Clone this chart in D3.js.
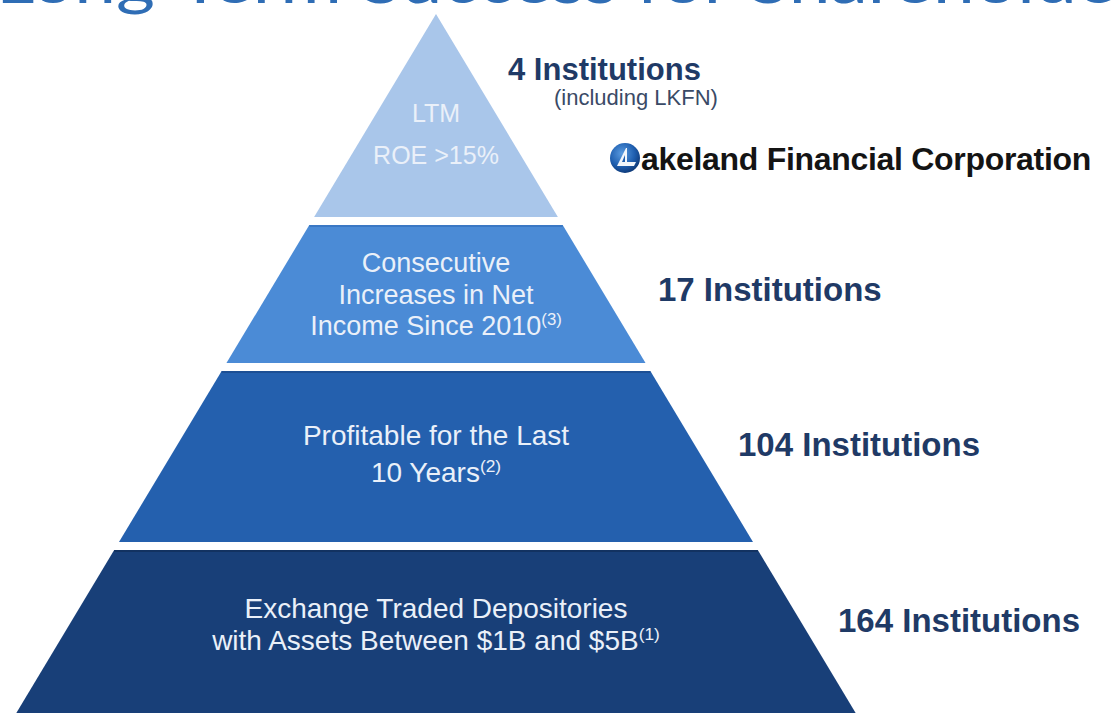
<!DOCTYPE html>
<html>
<head>
<meta charset="utf-8">
<script src="https://cdn.jsdelivr.net/npm/d3@7"></script>
<style>
  html, body { margin: 0; padding: 0; background: #fff; }
  svg { display: block; font-family: "Liberation Sans", Arial, sans-serif; }
</style>
</head>
<body>
<svg width="1114" height="713"></svg>
<script>
// data
var tierLines = [
  ["LTM", "ROE >15%"],
  ["Consecutive", "Increases in Net", "Income Since 2010"],
  ["Profitable for the Last", "10 Years"],
  ["Exchange Traded Depositories", "with Assets Between $1B and $5B"]
];
var tierNotes = ["", "(3)", "(2)", "(1)"];
var institutionCounts = [4, 17, 104, 164];
var countSubtitles = ["(including LKFN)", "", "", ""];

var svg = d3.select("svg");

// title, mostly cut off by the top edge
svg.append("text")
  .attr("x", -4)
  .attr("y", 3)
  .attr("font-family", "Lato, 'Open Sans', sans-serif")
  .attr("font-size", 62)
  .attr("fill", "#2f6db5")
  .attr("textLength", 1180)
  .attr("lengthAdjust", "spacingAndGlyphs")
  .text("Long-Term Success for Shareholders");

// pyramid layout
var cx = 436;
var apexY = 14;
var tierTop = [14, 225, 371, 550];
var tierBottom = [217, 363, 542, 760];
var half = d3.scaleLinear().domain([apexY, 542]).range([0, 317]);

var color = d3.scaleOrdinal()
  .domain(d3.range(tierLines.length))
  .range(["#a9c6ea", "#4b8bd6", "#2460ae", "#183f78"]);
var edge = d3.scaleOrdinal()
  .domain(d3.range(tierLines.length))
  .range(["#a9c6ea", "#3a78c4", "#1c4f94", "#123261"]);

var line = d3.line();

var tiers = svg.selectAll(".tier")
  .data(tierLines)
  .enter().append("g")
    .attr("class", "tier");

tiers.append("path")
  .attr("d", function(d, i) {
    var t = tierTop[i], b = tierBottom[i];
    return line([
      [cx - half(t), t], [cx + half(t), t],
      [cx + half(b), b], [cx - half(b), b]
    ]) + "Z";
  })
  .attr("fill", function(d, i) { return color(i); });

// thin darker line along the top of each lower tier
tiers.filter(function(d, i) { return i > 0; })
  .append("line")
  .attr("x1", function(d, i) { return cx - half(tierTop[i + 1]); })
  .attr("x2", function(d, i) { return cx + half(tierTop[i + 1]); })
  .attr("y1", function(d, i) { return tierTop[i + 1] + 1; })
  .attr("y2", function(d, i) { return tierTop[i + 1] + 1; })
  .attr("stroke", function(d, i) { return edge(i + 1); })
  .attr("stroke-width", 2);

// tier texts
var textSize = [25, 27, 28, 28];
var firstBase = [122, 272, 445, 618];
var lineGap = [42, 31.5, 37, 32];

tiers.each(function(lines, i) {
  var g = d3.select(this);
  lines.forEach(function(s, j) {
    var t = g.append("text")
      .attr("x", cx)
      .attr("y", firstBase[i] + j * lineGap[i])
      .attr("text-anchor", "middle")
      .attr("font-size", textSize[i])
      .attr("fill", "#eaf0f9");
    t.append("tspan").text(s);
    if (j === lines.length - 1 && tierNotes[i]) {
      t.append("tspan")
        .attr("dy", -10)
        .attr("font-size", textSize[i] * 0.62)
        .text(tierNotes[i]);
    }
  });
});

// institution counts on the right
var countX = [508, 658, 738, 838];
var countY = [80, 301, 456, 632];
var countSize = [31, 33, 33, 33];

svg.selectAll(".count")
  .data(institutionCounts)
  .enter().append("text")
    .attr("class", "count")
    .attr("x", function(d, i) { return countX[i]; })
    .attr("y", function(d, i) { return countY[i]; })
    .attr("font-size", function(d, i) { return countSize[i]; })
    .attr("font-weight", "bold")
    .attr("fill", "#1f3a66")
    .text(function(d) { return d + " Institutions"; });

svg.selectAll(".sub")
  .data(countSubtitles.filter(function(s) { return s; }))
  .enter().append("text")
    .attr("class", "sub")
    .attr("x", 554)
    .attr("y", 105)
    .attr("font-size", 22)
    .attr("fill", "#3a4a66")
    .text(function(d) { return d; });

// Lakeland logo
var logo = svg.append("g").attr("transform", "translate(625,158)");
var grad = svg.append("defs").append("radialGradient")
  .attr("id", "lk").attr("cx", "40%").attr("cy", "35%").attr("r", "70%");
grad.append("stop").attr("offset", "0%").attr("stop-color", "#5a9be0");
grad.append("stop").attr("offset", "60%").attr("stop-color", "#1f5fb0");
grad.append("stop").attr("offset", "100%").attr("stop-color", "#0c3572");
logo.append("circle").attr("r", 15).attr("fill", "url(#lk)");
logo.append("path")
  .attr("d", "M-8,8 L1,-10 L2,-10 L2,4 L11,4 L9,8 Z")
  .attr("fill", "#f2f6fb");
logo.append("path")
  .attr("d", "M-3,4 L0,-3 L0,4 Z")
  .attr("fill", "#1f5fb0");

svg.append("text")
  .attr("x", 641)
  .attr("y", 170)
  .attr("font-size", 32)
  .attr("font-weight", "bold")
  .attr("fill", "#141414")
  .attr("letter-spacing", -0.3)
  .text("akeland Financial Corporation");
</script>
</body>
</html>
